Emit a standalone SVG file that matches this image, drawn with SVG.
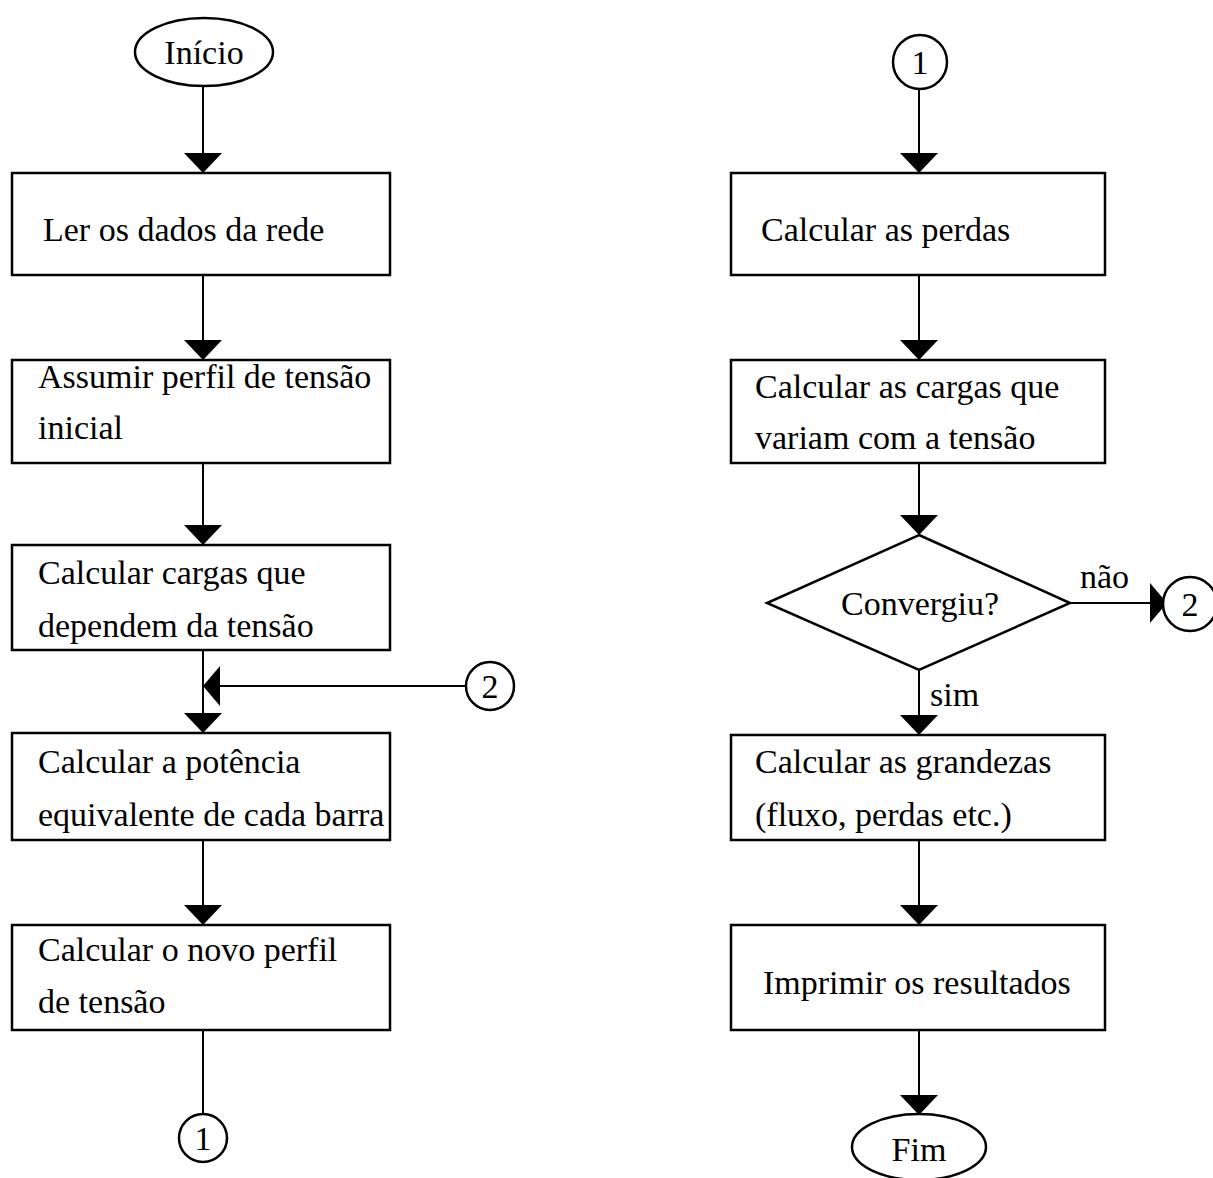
<svg xmlns="http://www.w3.org/2000/svg" width="1213" height="1178" viewBox="0 0 1213 1178">
<defs>
<style>
.s{fill:#fff;stroke:#000;stroke-width:2.5}
.l{fill:none;stroke:#000;stroke-width:2}
.ah{fill:#000}
text{font-family:"Liberation Serif","Times New Roman",serif;font-size:34px;fill:#000}
.m{text-anchor:middle}
</style>
</defs>
<rect width="1213" height="1178" fill="#fff"/>
<g id="connectors">
<line class="l" x1="203" y1="86" x2="203" y2="155"/>
<polygon class="ah" points="184,153 222,153 203,173"/>
<line class="l" x1="203" y1="275" x2="203" y2="342"/>
<polygon class="ah" points="184,340 222,340 203,360"/>
<line class="l" x1="203" y1="463" x2="203" y2="527"/>
<polygon class="ah" points="184,525 222,525 203,545"/>
<line class="l" x1="203" y1="650" x2="203" y2="715"/>
<line class="l" x1="218" y1="686" x2="466" y2="686"/>
<polygon class="ah" points="220,666 220,706 203,686"/>
<polygon class="ah" points="184,713 222,713 203,733"/>
<line class="l" x1="203" y1="840" x2="203" y2="907"/>
<polygon class="ah" points="184,905 222,905 203,925"/>
<line class="l" x1="203" y1="1030" x2="203" y2="1114"/>
<line class="l" x1="919" y1="90" x2="919" y2="155"/>
<polygon class="ah" points="900,153 938,153 919,173"/>
<line class="l" x1="919" y1="275" x2="919" y2="342"/>
<polygon class="ah" points="900,340 938,340 919,360"/>
<line class="l" x1="919" y1="463" x2="919" y2="517"/>
<polygon class="ah" points="900,515 938,515 919,535"/>
<line class="l" x1="1070" y1="603" x2="1152" y2="603"/>
<polygon class="ah" points="1150,583 1150,623 1167,603"/>
<line class="l" x1="919" y1="670" x2="919" y2="717"/>
<polygon class="ah" points="900,715 938,715 919,735"/>
<line class="l" x1="919" y1="840" x2="919" y2="907"/>
<polygon class="ah" points="900,905 938,905 919,925"/>
<line class="l" x1="919" y1="1030" x2="919" y2="1097"/>
<polygon class="ah" points="900,1095 938,1095 919,1115"/>
<text x="1080" y="588">não</text>
<text x="930" y="706">sim</text>
</g>
<g id="inicio">
<ellipse class="s" cx="204" cy="52" rx="69" ry="34"/>
<text class="m" x="204" y="64">Início</text>
</g>
<g id="ler">
<rect class="s" x="12" y="173" width="378" height="102"/>
<text x="43" y="241">Ler os dados da rede</text>
</g>
<g id="assumir">
<rect class="s" x="12" y="360" width="378" height="103"/>
<text x="38" y="388">Assumir perfil de tensão</text>
<text x="38" y="439">inicial</text>
</g>
<g id="cargas">
<rect class="s" x="12" y="545" width="378" height="105"/>
<text x="38" y="584">Calcular cargas que</text>
<text x="38" y="637">dependem da tensão</text>
</g>
<g id="con2a">
<circle class="s" cx="490" cy="686" r="24"/>
<text class="m" x="490" y="698">2</text>
</g>
<g id="potencia">
<rect class="s" x="12" y="733" width="378" height="107"/>
<text x="38" y="773">Calcular a potência</text>
<text x="38" y="826">equivalente de cada barra</text>
</g>
<g id="novo">
<rect class="s" x="12" y="925" width="378" height="105"/>
<text x="38" y="961">Calcular o novo perfil</text>
<text x="38" y="1013">de tensão</text>
</g>
<g id="con1a">
<circle class="s" cx="203" cy="1138" r="24"/>
<text class="m" x="203" y="1150">1</text>
</g>
<g id="con1b">
<circle class="s" cx="920" cy="62" r="27"/>
<text class="m" x="920" y="74">1</text>
</g>
<g id="perdas">
<rect class="s" x="731" y="173" width="374" height="102"/>
<text x="761" y="241">Calcular as perdas</text>
</g>
<g id="cargasv">
<rect class="s" x="731" y="360" width="374" height="103"/>
<text x="755" y="398">Calcular as cargas que</text>
<text x="755" y="449">variam com a tensão</text>
</g>
<g id="convergiu">
<polygon class="s" points="919,535 1070,603 919,670 767,603"/>
<text class="m" x="920" y="615">Convergiu?</text>
</g>
<g id="con2b">
<circle class="s" cx="1190" cy="604" r="27"/>
<text class="m" x="1190" y="616">2</text>
</g>
<g id="grandezas">
<rect class="s" x="731" y="735" width="374" height="105"/>
<text x="755" y="773">Calcular as grandezas</text>
<text x="755" y="826">(fluxo, perdas etc.)</text>
</g>
<g id="imprimir">
<rect class="s" x="731" y="925" width="374" height="105"/>
<text x="763" y="994">Imprimir os resultados</text>
</g>
<g id="fim">
<ellipse class="s" cx="919" cy="1147" rx="67" ry="33"/>
<text class="m" x="919" y="1161">Fim</text>
</g>
</svg>
